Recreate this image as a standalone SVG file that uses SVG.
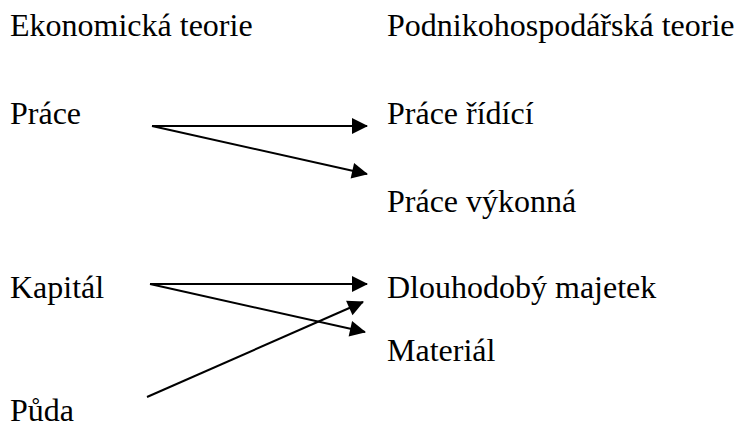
<svg xmlns="http://www.w3.org/2000/svg" width="737" height="428" viewBox="0 0 737 428">
<defs>
<style>
text{font-family:"Liberation Serif","Tinos","Times New Roman","DejaVu Serif",serif;font-size:32px;fill:#000}
.c line{stroke:#000;stroke-width:2;marker-end:url(#ah)}
</style>
<marker id="ah" markerUnits="userSpaceOnUse" markerWidth="16" markerHeight="16" refX="15" refY="8" orient="auto" overflow="visible">
<path d="M0,0 L16,8 L0,16 z" fill="#000"/>
</marker>
</defs>
<rect width="737" height="428" fill="#fff"/>
<g font-family="Liberation Serif, serif" font-size="32">
<g id="h1"><text x="10" y="36">Ekonomická teorie</text></g>
<g id="h2"><text x="387" y="36">Podnikohospodářská teorie</text></g>
<g id="prace"><text x="10" y="124">Práce</text></g>
<g id="kapital"><text x="10" y="298">Kapitál</text></g>
<g id="puda"><text x="10" y="421">Půda</text></g>
<g id="prace-ridici"><text x="387" y="124">Práce řídící</text></g>
<g id="prace-vykonna"><text x="387" y="212">Práce výkonná</text></g>
<g id="majetek"><text x="387" y="298">Dlouhodobý majetek</text></g>
<g id="material"><text x="387" y="361">Materiál</text></g>
</g>
<g class="c" id="connectors">
<line x1="152" y1="126" x2="367" y2="126"/>
<line x1="152" y1="126" x2="367" y2="174"/>
<line x1="150" y1="284" x2="367" y2="284"/>
<line x1="150" y1="284" x2="365" y2="332"/>
<line x1="147" y1="397" x2="363" y2="302"/>
</g>
</svg>
